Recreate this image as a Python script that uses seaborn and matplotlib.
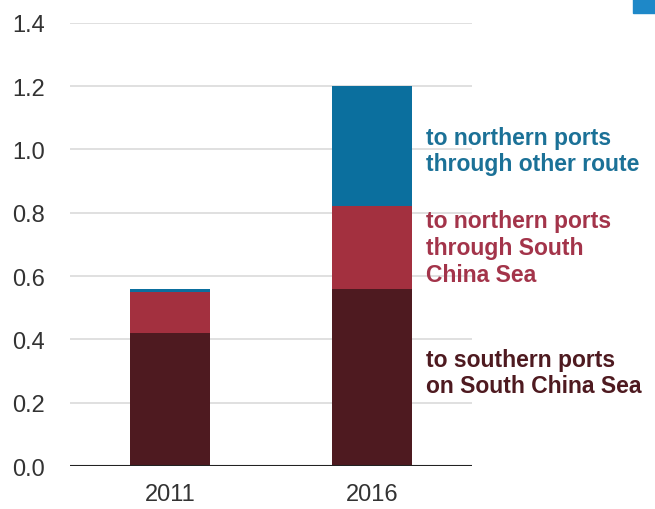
import matplotlib
matplotlib.use("Agg")
import matplotlib.pyplot as plt
import seaborn as sns
import numpy as np
import pandas as pd

years = ["2011", "2016"]
southern = [0.42, 0.56]
north_scs = [0.13, 0.26]
north_other = [0.01, 0.38]
labels = ["to southern ports\non South China Sea",
          "to northern ports\nthrough South\nChina Sea",
          "to northern ports\nthrough other route"]
colors = ["#4E1A20", "#A3303F", "#0B6F9E"]
text_colors = ["#4E1A20", "#A3344A", "#1B7197"]
yticks = [0.0, 0.2, 0.4, 0.6, 0.8, 1.0, 1.2, 1.4]

sns.set_theme(style="white")
plt.rcParams['font.family'] = ['Liberation Sans', 'DejaVu Sans']

fig = plt.figure(figsize=(6.55, 5.1), dpi=100)
ax = fig.add_axes([0.107, 0.0843, 0.614, 0.869])

layers = [southern, north_scs, north_other]
bottom = np.zeros(len(years))
for vals, c in zip(layers, colors):
    df = pd.DataFrame({"year": years, "val": vals})
    sns.barplot(data=df, x="year", y="val", color=c, bottom=bottom,
                width=0.396, ax=ax, saturation=1, zorder=3, linewidth=0)
    bottom = bottom + np.array(vals)

ax.set_xlim(-0.495, 1.495)
ax.set_ylim(0, 1.4)
ax.set_yticks(yticks)
ax.set_yticklabels([f"{t:.1f}" for t in yticks])
for t in yticks[1:]:
    ax.axhline(t, color="#DDDDDD", lw=1.3, zorder=1)
ax.axhline(0, color="#222222", lw=1.5, zorder=4)
for s in ax.spines.values():
    s.set_visible(False)
ax.set_xlabel("")
ax.set_ylabel("")
ax.tick_params(axis="both", length=0, labelsize=17, colors="#333333")
ax.tick_params(axis="y", pad=18)
ax.tick_params(axis="x", pad=12)

# labels for the 2016 stack
ypos = [0.296, 0.69, 0.997]
for lab, y, tc in zip(labels, ypos, text_colors):
    ax.text(1.267, y, lab, color=tc, fontsize=16.5, fontweight="bold",
            va="center", ha="left", linespacing=1.2, clip_on=False)

# blue square top-right
fig.patches.append(plt.Rectangle((633/655, 1 - 14/510), 22/655, 14/510,
                                 transform=fig.transFigure, color="#1E88C8",
                                 figure=fig))

fig.savefig("out.png", dpi=100)
